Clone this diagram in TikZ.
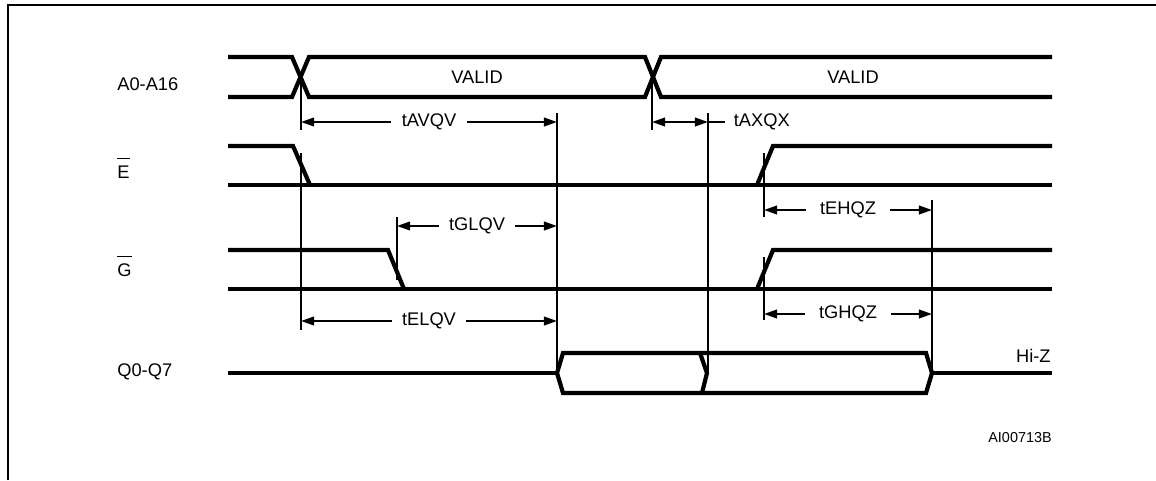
\documentclass[tikz,border=0pt]{standalone}
\usepackage{fontspec}
\setmainfont{Liberation Sans}
\usetikzlibrary{arrows.meta,positioning}

\newsavebox\sigbox
\newcommand{\sigbar}[1]{\sbox\sigbox{#1}\rlap{\rule[1.05em]{\wd\sigbox}{0.6pt}}\usebox\sigbox}

\begin{document}
\begin{tikzpicture}[
        x=0.02cm, y=-0.02cm,
    font=\fontsize{10.4pt}{12pt}\selectfont,
    frame/.style={draw, line width=1.5pt},
    wave/.style={draw, line width=2.4pt, line join=miter},
    tick/.style={draw, line width=1.1pt},
    dim/.style={draw, line width=1pt, {Triangle[length=7.5pt,width=5pt]}-{Triangle[length=7.5pt,width=5pt]}},
    tlabel/.style={fill=white, inner xsep=6pt, inner ysep=1pt},
    siglabel/.style={anchor=base west, inner sep=0pt}
    ]
    \useasboundingbox (0,0) rectangle (1156,480);

    % frame
    \draw[frame] (8,480) -- (8,5) -- (1156,5);

    % signal names
    \node[siglabel] (nA) at (117,90) {A0-A16};
    \node[siglabel] (nE) at (117,178) {\sigbar{E}};
    \node[siglabel] (nG) at (117,276) {\sigbar{G}};
    \node[siglabel] (nQ) at (117,376) {Q0-Q7};

    % address bus
    \draw[wave] (228,57) -- (292,57) -- (309,97) -- (645,97) -- (661,57) -- (1052,57);
    \draw[wave] (228,97) -- (292,97) -- (309,57) -- (645,57) -- (661,97) -- (1052,97);
    \node[inner sep=0pt, anchor=base] (valid1) at (477,83) {VALID};
    \node[inner sep=0pt, anchor=base] (valid2) at (853,83) {VALID};

    % chip enable
    \draw[wave] (228,185) -- (1052,185);
    \draw[wave] (228,146) -- (293,146) -- (310,185);
    \draw[wave] (757,185) -- (773,146) -- (1052,146);

    % output enable
    \draw[wave] (228,289) -- (1052,289);
    \draw[wave] (228,250) -- (388,250) -- (404,289);
    \draw[wave] (757,289) -- (773,250) -- (1052,250);

    % data out
    \draw[wave] (228,373) -- (557,373);
    \draw[wave] (557,373) -- (563,353) -- (926,353) -- (932,373) -- (926,393) -- (563,393) -- cycle;
    \draw[wave] (700,353) -- (707,373) -- (702,393);
    \draw[wave] (932,373) -- (1052,373);
    \node[inner sep=0pt, anchor=base east] (hiz) at (1051,362) {Hi-Z};

    % timing marks
    \coordinate (avL) at (301,122);
    \coordinate (avR) at (557,122);
    \coordinate (axL) at (652,122);
    \coordinate (axR) at (708,122);
    \coordinate (glL) at (397,226);
    \coordinate (glR) at (557,226);
    \coordinate (elL) at (301,321);
    \coordinate (elR) at (557,321);
    \coordinate (ehL) at (764,210);
    \coordinate (ehR) at (932,210);
    \coordinate (ghL) at (764,314);
    \coordinate (ghR) at (932,314);

    \path[tick] (301,77) -- (301,130);
    \path[tick] (301,153) -- (301,330);
    \path[tick] (557,113) -- (557,373);
    \path[tick] (397,217) -- (397,280);
    \path[tick] (652,77) -- (652,130);
    \path[tick] (708,113) -- (708,373);
    \path[tick] (764,153) -- (764,217);
    \path[tick] (764,257) -- (764,320);
    \path[tick] (932,200) -- (932,373);

    % timing arrows
    \path[dim] (avL) -- node[tlabel] (tAVQV) {tAVQV} (avR);
    \path[dim] (axL) -- (axR);
    \draw[line width=1pt] (axR) -- ++(17,0) node[right, inner sep=0pt, xshift=8pt*0.567] (tAXQX) {tAXQX};
    \path[dim] (glL) -- node[tlabel] (tGLQV) {tGLQV} (glR);
    \path[dim] (elL) -- node[tlabel] (tELQV) {tELQV} (elR);
    \path[dim] (ehL) -- node[tlabel, inner xsep=8pt] (tEHQZ) {tEHQZ} (ehR);
    \path[dim] (ghL) -- node[tlabel, inner xsep=8pt] (tGHQZ) {tGHQZ} (ghR);

    \node[inner sep=0pt, anchor=base east, font=\fontsize{8.2pt}{10pt}\selectfont] (figid) at (1052,442) {AI00713B};

    \end{tikzpicture}
\end{document}
